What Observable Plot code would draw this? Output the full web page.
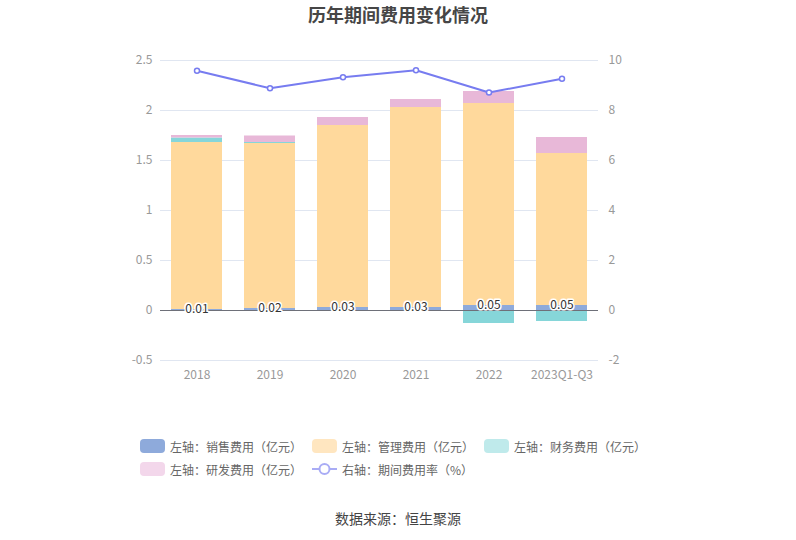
<!DOCTYPE html>
<html><head><meta charset="utf-8">
<script src="https://cdn.jsdelivr.net/npm/d3@7"></script>
<script src="https://cdn.jsdelivr.net/npm/@observablehq/plot@0.6"></script>
<style>
body{margin:0;background:#fff;font-family:"Noto Sans CJK SC","Noto Sans",sans-serif;}
#wrap{width:796px;height:540px;position:relative;}
#title{position:absolute;top:0;left:0;width:796px;text-align:center;font-size:18px;font-weight:bold;color:#464646;line-height:28px;}
#chart{position:absolute;top:30px;left:0;}
#legend{position:absolute;top:437px;left:140px;display:grid;grid-template-columns:172px 172px 172px;row-gap:5px;font-size:12px;color:#666;}
.item{display:flex;align-items:center;height:18px;}
.sw{width:25px;height:14px;border-radius:4px;margin-right:5px;}
#source{position:absolute;top:508px;left:0;width:796px;text-align:center;font-size:14px;font-weight:normal;color:#444;}
</style></head>
<body><div id="wrap">
<div id="title">历年期间费用变化情况</div>
<div id="chart"></div>
<div id="legend"></div>
<div id="source">数据来源：恒生聚源</div>
</div>
<script>
const years = ["2018","2019","2020","2021","2022","2023Q1-Q3"];
const sales = [0.01,0.02,0.03,0.03,0.05,0.05];
const management = [1.67,1.65,1.82,2.00,2.02,1.52];
const finance = [0.045,0.01,0.0,0.0,-0.13,-0.11];
const rnd = [0.025,0.065,0.08,0.08,0.12,0.16];
const rate = [9.59,8.89,9.33,9.61,8.72,9.27];
const seriesNames = ["左轴：销售费用（亿元）","左轴：管理费用（亿元）","左轴：财务费用（亿元）","左轴：研发费用（亿元）"];
const lineName = "右轴：期间费用率（%）";
const colors = ["#8eaadb","#ffd99c","#86d6d9","#e8b8d8"];
const legendColors = ["#8eaadb","#ffe6c0","#bfeaeb","#f3d7eb"];
const lineColor = "#777cf0";

const series = [sales, management, finance, rnd];
const stackData = [];
years.forEach((y,i)=>series.forEach((s,k)=>stackData.push({year:y, name:seriesNames[k], value:s[i]})));
const lineData = years.map((y,i)=>({year:y, rate:rate[i]}));
const labelData = years.map((y,i)=>({year:y, v:sales[i]}));

const plot = Plot.plot({
  width:796, height:370,
  marginTop:30, marginBottom:40, marginLeft:160, marginRight:198,
  style:{fontFamily:'"Noto Sans CJK SC","Noto Sans",sans-serif', fontSize:"12px"},
  x:{domain:years, paddingInner:0.3, paddingOuter:0.15, label:null},
  y:{domain:[-0.5,2.5], label:null},
  color:{domain:seriesNames, range:colors},
  marks:[
    Plot.gridY([-0.5,0.5,1,1.5,2,2.5],{stroke:"#e0e6f1", strokeOpacity:1}),
    Plot.barY(stackData, Plot.stackY({x:"year", y:"value", fill:"name", order:seriesNames})),
    Plot.ruleY([0],{stroke:"#6e7079"}),
    Plot.axisY([-0.5,0,0.5,1,1.5,2,2.5],{anchor:"left", tickSize:0, tickPadding:8, fill:"#999", fontSize:12, label:null, tickFormat:d=>String(d)}),
    Plot.axisY([-0.5,0,0.5,1,1.5,2,2.5],{anchor:"right", tickSize:0, tickPadding:10, fill:"#999", fontSize:12, label:null, tickFormat:d=>String(d*4)}),
    Plot.axisX({tickSize:0, tickPadding:10, fill:"#999", fontSize:12, label:null}),
    Plot.line(lineData,{x:"year", y:d=>d.rate/4, stroke:lineColor, strokeWidth:2}),
    Plot.dot(lineData,{x:"year", y:d=>d.rate/4, r:2.5, stroke:lineColor, strokeWidth:1.5, fill:"#fff"}),
    Plot.text(labelData,{x:"year", y:"v", text:d=>d.v.toFixed(2), fill:"#333", stroke:"#fff", strokeWidth:3, fontSize:12})
  ]
});
document.getElementById("chart").appendChild(plot);

const leg = document.getElementById("legend");
seriesNames.forEach((n,k)=>{
  const it=document.createElement("div");it.className="item";
  it.innerHTML=`<div class="sw" style="background:${legendColors[k]}"></div><span>${n}</span>`;
  leg.appendChild(it);
});
const it=document.createElement("div");it.className="item";
it.innerHTML=`<svg width="25" height="14" style="margin-right:5px"><line x1="0" y1="7" x2="25" y2="7" stroke="#a9acf5" stroke-width="2"/><circle cx="12.5" cy="7" r="5" fill="#fff" stroke="#a9acf5" stroke-width="2"/></svg><span>${lineName}</span>`;
leg.appendChild(it);
</script>
</body></html>
